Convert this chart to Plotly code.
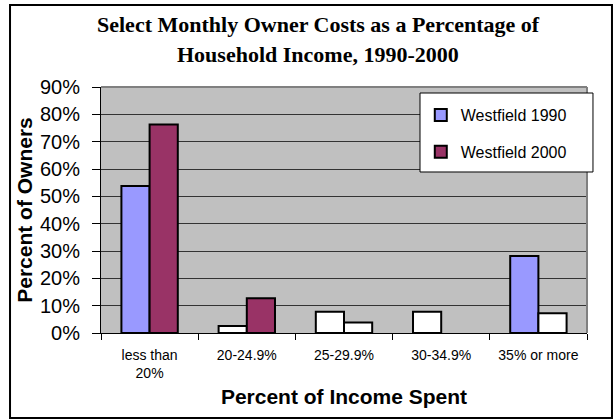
import plotly.graph_objects as go

categories = ["less than<br>20%", "20-24.9%", "25-29.9%", "30-34.9%", "35% or more"]
westfield_1990 = [0.538, 0.026, 0.078, 0.078, 0.282]
westfield_2000 = [0.763, 0.127, 0.038, 0.0, 0.072]

fill_1990 = ["#9999FF", "#FFFFFF", "#FFFFFF", "#FFFFFF", "#9999FF"]
fill_2000 = ["#993366", "#993366", "#FFFFFF", "#FFFFFF", "#FFFFFF"]

title_lines = ["Select Monthly Owner Costs as a Percentage of", "Household Income, 1990-2000"]


def outline_widths(values):
    # no outline on empty bars so nothing is drawn along the baseline
    return [2 if v > 0 else 0 for v in values]


fig = go.Figure()
fig.add_trace(go.Bar(
    x=categories, y=westfield_1990, name="Westfield 1990", legendgroup="g1990",
    marker=dict(color=fill_1990, line=dict(color="black", width=outline_widths(westfield_1990))),
))
fig.add_trace(go.Bar(
    x=categories, y=westfield_2000, name="Westfield 2000", legendgroup="g2000",
    marker=dict(color=fill_2000, line=dict(color="black", width=outline_widths(westfield_2000))),
))

fig.update_layout(
    width=614, height=419,
    margin=dict(l=101, r=27, t=87, b=86),
    paper_bgcolor="white",
    plot_bgcolor="#C0C0C0",
    barmode="group",
    bargap=0.42,
    bargroupgap=0,
    font=dict(family="Liberation Sans, Arial", color="black"),
    legend=dict(
        x=0.658, y=0.955, xanchor="left", yanchor="top",
        bgcolor="rgba(0,0,0,0)", borderwidth=0,
        font=dict(size=16), tracegroupgap=13,
        traceorder="grouped",
    ),
    showlegend=True,
)

# two-line chart title in a serif face
for text, ypos in zip(title_lines, [1.256, 1.134]):
    fig.add_annotation(
        text=f"<b>{text}</b>", xref="paper", yref="paper",
        x=0.447, y=ypos, xanchor="center", yanchor="middle", showarrow=False,
        font=dict(family="Liberation Serif, Times New Roman", size=22, color="black"),
    )

fig.update_yaxes(
    range=[0, 0.9], dtick=0.1, tickformat=".0%",
    showgrid=True, gridcolor="#333333", gridwidth=1,
    showline=True, linecolor="black", linewidth=1,
    ticks="outside", ticklen=8, tickcolor="black",
    tickfont=dict(size=20), ticklabelstandoff=8,
    title=dict(text="<b>Percent of Owners</b>", font=dict(size=21), standoff=1),
    zeroline=False,
)
fig.update_xaxes(
    showline=True, linecolor="black", linewidth=1,
    ticks="outside", tickson="boundaries", ticklen=6, tickcolor="black",
    tickfont=dict(size=14), ticklabelstandoff=9,
    title=dict(text="<b>Percent of Income Spent</b>", font=dict(size=21), standoff=9),
)

# grey frame on the top and right of the plotting area
fig.add_shape(type="line", xref="paper", yref="paper", x0=0, x1=1, y0=1, y1=1,
              line=dict(color="#808080", width=2))
fig.add_shape(type="line", xref="paper", yref="paper", x0=1, x1=1, y0=0, y1=1,
              line=dict(color="#808080", width=2))
# legend box
fig.add_shape(type="rect", xref="paper", yref="paper",
              x0=0.6564, x1=1.0123, y0=0.6545, y1=0.9756,
              fillcolor="white", line=dict(color="black", width=1), layer="above")
# outer chart border
fig.add_shape(type="rect", xref="paper", yref="paper",
              x0=-0.1872, x1=1.0514, y0=-0.3455, y1=1.3333,
              line=dict(color="black", width=2), layer="above")

fig.write_html("out.html")
